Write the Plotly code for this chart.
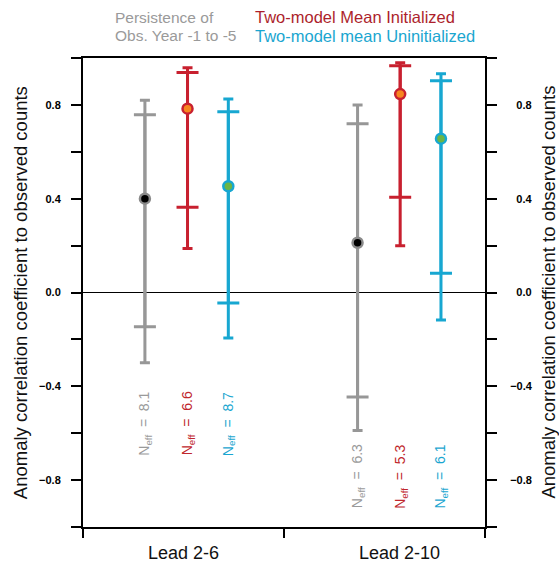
import plotly.graph_objects as go

# ---- data ----
leads = ["Lead 2-6", "Lead 2-10"]
series_names = ["Persistence of Obs. Year -1 to -5",
                "Two-model Mean Initialized",
                "Two-model mean Uninitialized"]

persist_acc = [0.400, 0.212]
persist_inner_hi = [0.758, 0.720]
persist_inner_lo = [-0.146, -0.446]
persist_outer_hi = [0.820, 0.800]
persist_outer_lo = [-0.300, -0.589]
persist_neff = ["8.1", "6.3"]

init_acc = [0.784, 0.846]
init_inner_hi = [0.938, 0.967]
init_inner_lo = [0.364, 0.406]
init_outer_hi = [0.958, 0.980]
init_outer_lo = [0.188, 0.199]
init_neff = ["6.6", "5.3"]

uninit_acc = [0.453, 0.656]
uninit_inner_hi = [0.771, 0.903]
uninit_inner_lo = [-0.045, 0.082]
uninit_outer_hi = [0.825, 0.933]
uninit_outer_lo = [-0.194, -0.117]
uninit_neff = ["8.7", "6.1"]

y_tick_vals = [-0.8, -0.4, 0.0, 0.4, 0.8]
y_tick_text = ["−0.8", "−0.4", "0.0", "0.4", "0.8"]
y_minor_vals = [-1.0, -0.6, -0.2, 0.2, 0.6, 1.0]

# ---- layout helpers ----
group_x = [0.52, 1.578]
offsets = [-0.212, 0.0, 0.203]
neff_y = [-0.56, -0.785]

GRAY, GRAY_DARK = "#979797", "#8a8a8a"
RED = "#c8202f"
CYAN = "#17a7d1"

series = [
    dict(acc=persist_acc, ihi=persist_inner_hi, ilo=persist_inner_lo,
         ohi=persist_outer_hi, olo=persist_outer_lo, neff=persist_neff,
         col=GRAY, edge=GRAY_DARK, fill="#000000", txt="#9a9a9a"),
    dict(acc=init_acc, ihi=init_inner_hi, ilo=init_inner_lo,
         ohi=init_outer_hi, olo=init_outer_lo, neff=init_neff,
         col=RED, edge=RED, fill="#f7861e", txt="#c0272d"),
    dict(acc=uninit_acc, ihi=uninit_inner_hi, ilo=uninit_inner_lo,
         ohi=uninit_outer_hi, olo=uninit_outer_lo, neff=uninit_neff,
         col=CYAN, edge=CYAN, fill="#6cb545", txt="#1aa6d0"),
]

fig = go.Figure()
bar_traces, marker_traces = [], []
for i, s in enumerate(series):
    xs = [g + offsets[i] for g in group_x]
    for hi, lo, w in ((s["ohi"], s["olo"], 5), (s["ihi"], s["ilo"], 11)):
        bar_traces.append(go.Scatter(
            x=xs, y=s["acc"], mode="markers",
            marker=dict(size=2, color=s["col"], opacity=0),
            error_y=dict(type="data", symmetric=False,
                         array=[h - a for h, a in zip(hi, s["acc"])],
                         arrayminus=[a - l for a, l in zip(s["acc"], lo)],
                         color=s["col"], thickness=3, width=w),
            showlegend=False, hoverinfo="skip"))
    marker_traces.append(go.Scatter(
        x=xs, y=s["acc"], mode="markers", name=series_names[i],
        marker=dict(size=10, color=s["fill"], line=dict(color=s["edge"], width=2.5)),
        showlegend=False))
for t in bar_traces + marker_traces:
    fig.add_trace(t)
fig.add_trace(go.Scatter(x=[None], y=[None], yaxis="y2", showlegend=False))

annotations = []
for i, s in enumerate(series):
    for j in range(2):
        annotations.append(dict(
            x=group_x[j] + offsets[i], y=neff_y[j], xref="x", yref="y",
            text="N<sub>eff</sub>\u00a0\u00a0=\u00a0\u00a0" + s["neff"][j],
            textangle=-90, showarrow=False, xanchor="center", yanchor="middle",
            font=dict(size=14, color=s["txt"], family="Liberation Sans, Arial")))

for j, lab in enumerate(leads):
    annotations.append(dict(x=[0.502, 1.577][j], y=-0.055, xref="x", yref="paper",
                            text=lab, showarrow=False, xanchor="center", yanchor="middle",
                            font=dict(size=18, color="#111", family="Liberation Sans, Arial")))

annotations += [
    dict(x=0.0746, y=1.087, xref="paper", yref="paper", text="Persistence of",
         showarrow=False, xanchor="left", yanchor="middle",
         font=dict(size=15.5, color="#9a9a9a", family="Liberation Sans, Arial")),
    dict(x=0.0746, y=1.047, xref="paper", yref="paper", text="Obs. Year -1 to -5",
         showarrow=False, xanchor="left", yanchor="middle",
         font=dict(size=15.5, color="#9a9a9a", family="Liberation Sans, Arial")),
    dict(x=0.423, y=1.087, xref="paper", yref="paper", text=series_names[1],
         showarrow=False, xanchor="left", yanchor="middle",
         font=dict(size=16.5, color="#ad1f2c", family="Liberation Sans, Arial")),
    dict(x=0.423, y=1.047, xref="paper", yref="paper", text=series_names[2],
         showarrow=False, xanchor="left", yanchor="middle",
         font=dict(size=16.5, color="#1aa6d0", family="Liberation Sans, Arial")),
]
ytitle = "Anomaly correlation coefficient to observed counts"
for xp in (-0.155, 1.157):
    annotations.append(dict(x=xp, y=0.5, xref="paper", yref="paper", text=ytitle,
                            textangle=-90, showarrow=False, xanchor="center", yanchor="middle",
                            font=dict(size=18.5, color="#111", family="Liberation Sans, Arial")))

yaxis_common = dict(range=[-1, 1], tickvals=y_tick_vals, ticks="outside", ticklen=10,
                    tickwidth=2, tickcolor="black", showline=True, linewidth=2,
                    linecolor="black", showgrid=False,
                    minor=dict(tickvals=y_minor_vals, ticks="outside", ticklen=10,
                               tickwidth=2, tickcolor="black", showgrid=False),
                    tickfont=dict(size=11, color="black", family="Liberation Sans, Arial",
                                  weight="bold"))

fig.update_layout(
    width=559, height=563,
    margin=dict(l=83, r=74, t=58, b=36),
    plot_bgcolor="white", paper_bgcolor="white",
    xaxis=dict(range=[0, 2], tickvals=[0, 1, 2], showticklabels=False,
               ticks="outside", ticklen=9, tickwidth=2, tickcolor="black",
               showline=True, linewidth=2, linecolor="black", mirror=True,
               showgrid=False, zeroline=False),
    yaxis=dict(**yaxis_common, ticktext=y_tick_text, zeroline=True,
               zerolinecolor="black", zerolinewidth=1, ticklabelstandoff=8),
    yaxis2=dict(**yaxis_common, overlaying="y", side="right", zeroline=False,
                ticktext=[t if t.startswith("−") else "\u2007" + t for t in y_tick_text],
                ticklabelstandoff=11),
    annotations=annotations,
    showlegend=False,
)

fig.write_html("out.html")
